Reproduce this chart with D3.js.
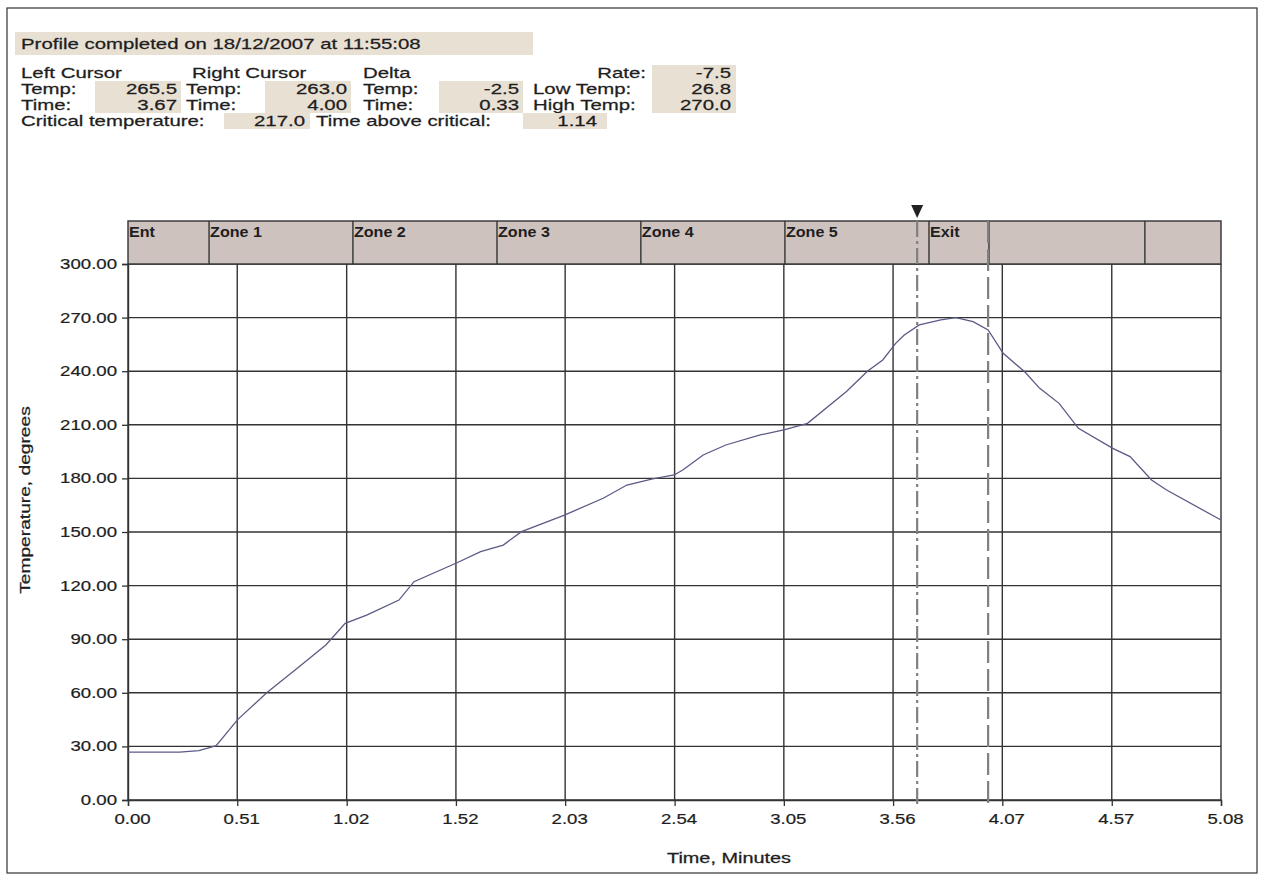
<!DOCTYPE html>
<html><head><meta charset="utf-8">
<script src="https://cdn.jsdelivr.net/npm/d3@7"></script>
<style>
html,body{margin:0;padding:0;background:#fff;}
svg{display:block;font-family:"Liberation Sans",Arial,Helvetica,sans-serif;}
</style></head><body>
<svg id="chart" width="1261" height="878"></svg>
<script>
// ---- data ----
const times = [0.00,0.24,0.33,0.41,0.51,0.645,0.79,0.92,1.01,1.11,1.26,1.33,1.53,1.64,1.745,1.83,2.03,2.21,2.32,2.44,2.54,2.58,2.675,2.78,2.94,3.05,3.16,3.34,3.44,3.51,3.57,3.61,3.68,3.78,3.85,3.93,4.00,4.07,4.17,4.24,4.33,4.42,4.58,4.66,4.76,4.83,5.083];
const temps = [26.8,26.8,27.6,30.4,45.0,60.0,74.0,86.8,98.9,103.5,111.9,122.2,132.8,139.0,142.7,150.2,159.5,168.9,176.3,179.7,181.9,184.7,193.1,198.7,204.3,207.1,210.8,228.5,240.1,246.3,255.6,260.3,265.9,268.7,270.0,267.7,263.1,250.0,239.7,230.4,222.0,208.0,196.8,192.2,179.1,173.5,156.7];
const xTickValues = [0,0.508,1.017,1.525,2.033,2.542,3.050,3.558,4.066,4.575,5.083];
const xTickLabels = ["0.00","0.51","1.02","1.52","2.03","2.54","3.05","3.56","4.07","4.57","5.08"];
const yTickValues = [0,30,60,90,120,150,180,210,240,270,300];
const zoneNames = ["Ent","Zone 1","Zone 2","Zone 3","Zone 4","Zone 5","Exit","",""];
const zoneStarts = [0,0.377,1.046,1.716,2.385,3.055,3.725,4.004,4.729];
const cursorTimes = [3.67,4.00];
const headerTitle = "Profile completed on 18/12/2007 at 11:55:08";
const cursorHeads = ["Left Cursor","Right Cursor","Delta"];
const cursorTemps = ["265.5","263.0","-2.5"];
const cursorTimesTxt = ["3.67","4.00","0.33"];
const statLabels = ["Rate:","Low Temp:","High Temp:"];
const statValues = ["-7.5","26.8","270.0"];
const critLabels = ["Critical temperature:","Time above critical:"];
const critValues = ["217.0","1.14"];
const xTitle = "Time, Minutes";
const yTitle = "Temperature, degrees";

// ---- layout ----
const L = 128, R = 1221, T = 264, B = 800, zoneTop = 221;
const svg = d3.select("#chart");
const ink = "#1e1e1e";
const beige = "#e9e0d4";

function txt(g, x, y, s, opts = {}) {
  const sx = opts.sx || 1.36;
  return g.append("text")
    .attr("transform", `translate(${x},${y}) scale(${sx},1)`)
    .attr("text-anchor", opts.anchor || "start")
    .attr("font-size", opts.size || 15)
    .attr("font-weight", opts.weight || "normal")
    .attr("fill", ink).attr("stroke", ink).attr("stroke-width", 0.25)
    .text(s);
}

// frame
svg.append("rect").attr("x",7).attr("y",8).attr("width",1250).attr("height",865)
  .attr("fill","none").attr("stroke","#333").attr("stroke-width",1.2);

// ---- header ----
const hdr = svg.append("g");
hdr.append("rect").attr("x",15).attr("y",32).attr("width",518).attr("height",23).attr("fill",beige);
txt(hdr, 21, 49, headerTitle);

const colX = [21,192,363];
const boxX = [95,265,439];
const boxW = [86,86,84];
const rowY = [78,94,110,126];
cursorHeads.forEach((h,i)=>{
  hdr.append("rect").attr("x",boxX[i]).attr("y",81).attr("width",boxW[i]).attr("height",32).attr("fill",beige);
  txt(hdr, colX[i], rowY[0], h);
  txt(hdr, colX[i] - (i===1?6:0), rowY[1], "Temp:");
  txt(hdr, colX[i] - (i===1?6:0), rowY[2], "Time:");
  txt(hdr, boxX[i]+boxW[i]-4, rowY[1], cursorTemps[i], {anchor:"end"});
  txt(hdr, boxX[i]+boxW[i]-4, rowY[2], cursorTimesTxt[i], {anchor:"end"});
});
hdr.append("rect").attr("x",652).attr("y",65).attr("width",84).attr("height",48).attr("fill",beige);
statLabels.forEach((s,i)=>{
  if(i===0) txt(hdr, 646, rowY[0], s, {anchor:"end"});
  else txt(hdr, 533, rowY[i], s);
  txt(hdr, 731, rowY[i], statValues[i], {anchor:"end"});
});
hdr.append("rect").attr("x",224).attr("y",113).attr("width",86).attr("height",16).attr("fill",beige);
hdr.append("rect").attr("x",523).attr("y",113).attr("width",84).attr("height",16).attr("fill",beige);
txt(hdr, 21, rowY[3], critLabels[0]);
txt(hdr, 305, rowY[3], critValues[0], {anchor:"end"});
txt(hdr, 316, rowY[3], critLabels[1]);
txt(hdr, 597, rowY[3], critValues[1], {anchor:"end"});

// ---- scales ----
const x = d3.scaleLinear().domain([0,5.083]).range([L,R]);
const y = d3.scaleLinear().domain([0,300]).range([B,T]);

// ---- grid ----
const grid = svg.append("g").attr("stroke","#333").attr("stroke-width",1.4);
grid.selectAll("line.h").data(yTickValues).join("line").attr("class","h")
  .attr("x1",L).attr("x2",R).attr("y1",d=>y(d)).attr("y2",d=>y(d));
grid.selectAll("line.v").data(xTickValues).join("line").attr("class","v")
  .attr("x1",d=>x(d)).attr("x2",d=>x(d)).attr("y1",T).attr("y2",B);

// ---- zone bar ----
const zg = svg.append("g");
zg.append("rect").attr("x",L).attr("y",zoneTop).attr("width",R-L).attr("height",T-zoneTop)
  .attr("fill","#cec2bf").attr("stroke","#333").attr("stroke-width",1.4);
zg.selectAll("line").data(zoneStarts.slice(1)).join("line")
  .attr("x1",d=>x(d)).attr("x2",d=>x(d)).attr("y1",zoneTop).attr("y2",T)
  .attr("stroke","#333").attr("stroke-width",1.4);
zoneNames.forEach((n,i)=>{
  if(n) txt(zg, x(zoneStarts[i])+1, zoneTop+16, n, {sx:1.15, size:14, weight:"bold"}).attr("stroke-width",0);
});

// ---- axes ----
const SX = 1.33;
const yAxis = d3.axisLeft(y).tickValues(yTickValues).tickFormat(d3.format(".2f")).tickSize(6).tickPadding(4);
const yg = svg.append("g").attr("transform",`translate(${L},0)`).call(yAxis);
const xAxis = d3.axisBottom(x).tickValues(xTickValues).tickFormat((d,i)=>xTickLabels[i]).tickSize(6).tickPadding(8);
const xg = svg.append("g").attr("transform",`translate(0,${B})`).call(xAxis);
[yg,xg].forEach(g=>{
  g.selectAll("path").attr("stroke","#333").attr("stroke-width",1.4);
  g.selectAll("line").attr("stroke","#333").attr("stroke-width",1.3);
  g.selectAll("text").attr("font-family","'Liberation Sans',Arial,sans-serif")
    .attr("font-size",14).attr("fill",ink).attr("stroke",ink).attr("stroke-width",0.2);
});
yg.selectAll("text").attr("x", -11/SX).attr("transform",`scale(${SX},1)`);
xg.selectAll("text").attr("x", 4/SX).attr("transform",`scale(${SX},1)`);

// titles
txt(svg, 729, 863, xTitle, {anchor:"middle", size:14, sx:1.42});
svg.append("text").attr("transform","translate(30,500) rotate(-90) scale(1.37,1)").attr("text-anchor","middle")
  .attr("font-size",14).attr("fill",ink).attr("stroke",ink).attr("stroke-width",0.25).text(yTitle);

// ---- cursors ----
const cur = svg.append("g").attr("stroke","#808080").attr("stroke-width",2.2).attr("fill","none");
cur.append("line").attr("x1",x(cursorTimes[0])).attr("x2",x(cursorTimes[0])).attr("y1",zoneTop).attr("y2",B+4)
  .attr("stroke-dasharray","16,4,3,4");
cur.append("line").attr("x1",x(cursorTimes[1])).attr("x2",x(cursorTimes[1])).attr("y1",zoneTop).attr("y2",B+4)
  .attr("stroke-dasharray","22,6");
const tx = x(cursorTimes[0]);
svg.append("path").attr("d",`M${tx-6},${205}L${tx+6},${205}L${tx},${218}Z`).attr("fill","#222");

// ---- profile line ----
const pts = times.map((t,i)=>[t,temps[i]]);
svg.append("path").datum(pts)
  .attr("d",d3.line().x(d=>x(d[0])).y(d=>y(d[1])))
  .attr("fill","none").attr("stroke","#5a5a86").attr("stroke-width",1.3);
</script>
</body></html>
